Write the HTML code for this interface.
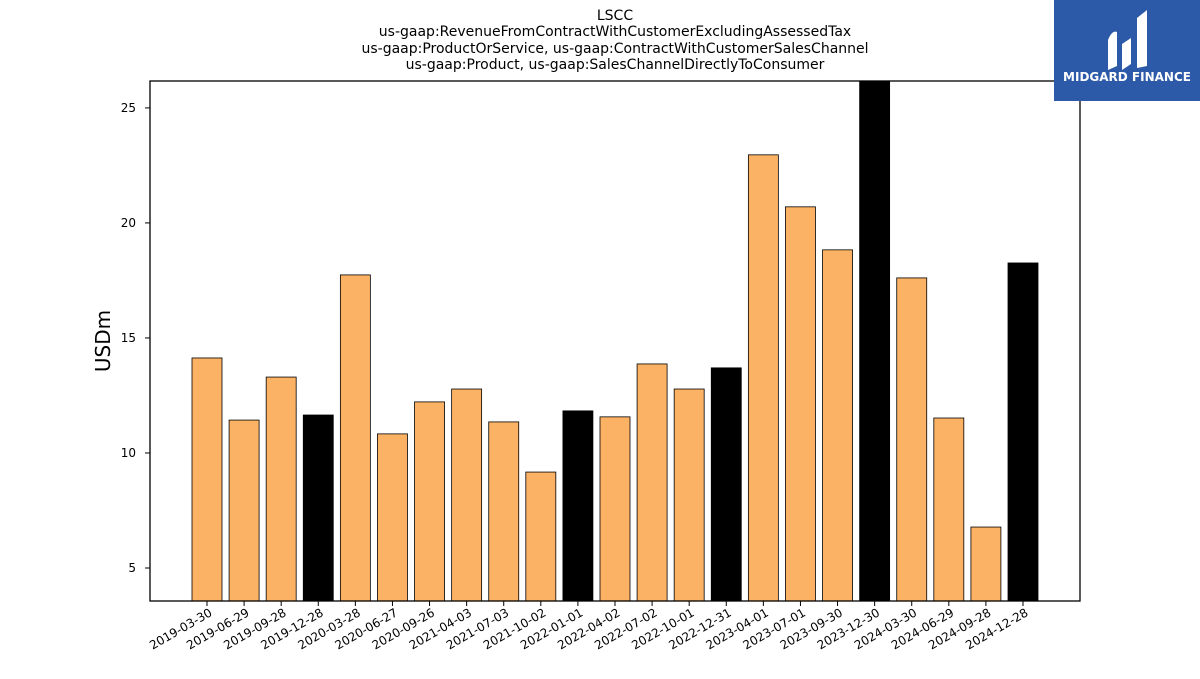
<!DOCTYPE html>
<html><head><meta charset="utf-8"><style>
body{margin:0;background:#fff;font-family:"DejaVu Sans","Liberation Sans",sans-serif}
</style></head><body>
<svg width="1200" height="675" xmlns="http://www.w3.org/2000/svg" id="svg" font-family="DejaVu Sans, Liberation Sans, sans-serif">
<rect width="1200" height="675" fill="#fff"/>
<g font-size="14" text-anchor="middle" fill="#000">
<text x="615" y="20">LSCC</text>
<text x="615" y="36">us-gaap:RevenueFromContractWithCustomerExcludingAssessedTax</text>
<text x="615" y="53">us-gaap:ProductOrService, us-gaap:ContractWithCustomerSalesChannel</text>
<text x="615" y="69">us-gaap:Product, us-gaap:SalesChannelDirectlyToConsumer</text>
</g>
<text transform="translate(110,341) rotate(-90)" font-size="20" text-anchor="middle">USDm</text>
<g id="plot"></g>
<rect x="150" y="81" width="930" height="520" fill="none" stroke="#000" stroke-width="1.3"/>
<g>
<rect x="1054" y="0" width="146" height="101" fill="#2c5aa8"/>
<path d="M1108 70 L1108 40 Q1112 30 1117 32 L1117 66 Z M1122 70 L1122 44 L1131 38 L1131 64 Z M1137 68 L1137 18 L1147 10 L1147 66 Z" fill="#fff"/>
<text x="1127" y="81" font-size="12" font-weight="bold" fill="#fff" text-anchor="middle">MIDGARD FINANCE</text>
</g>
</svg>
<script>
const categories=["2019-03-30","2019-06-29","2019-09-28","2019-12-28","2020-03-28","2020-06-27","2020-09-26","2021-04-03","2021-07-03","2021-10-02","2022-01-01","2022-04-02","2022-07-02","2022-10-01","2022-12-31","2023-04-01","2023-07-01","2023-09-30","2023-12-30","2024-03-30","2024-06-29","2024-09-28","2024-12-28"];
const values=[14.13,11.43,13.30,11.65,17.74,10.83,12.22,12.78,11.35,9.17,11.83,11.57,13.87,12.78,13.70,22.96,20.70,18.83,26.5,17.61,11.52,6.78,18.26];
const fiscalYearEnd=[false,false,false,true,false,false,false,false,false,false,true,false,false,false,true,false,false,false,true,false,false,false,true];
const yTicks=[5,10,15,20,25];
const yMin=3.565,yMax=26.17,yTop=81,yBot=601;
const ys=v=>yBot-(v-yMin)/(yMax-yMin)*(yBot-yTop);
const xs=i=>207+i*(1023-207)/(categories.length-1);
const NS="http://www.w3.org/2000/svg";
const g=document.getElementById('plot');
function mk(t,a){const e=document.createElementNS(NS,t);for(const k in a)e.setAttribute(k,a[k]);g.appendChild(e);return e;}
const clip=mk('clipPath',{id:'c'});const cr=document.createElementNS(NS,'rect');
cr.setAttribute('x',150);cr.setAttribute('y',81);cr.setAttribute('width',930);cr.setAttribute('height',520);clip.appendChild(cr);
values.forEach((v,i)=>{
 const r=mk('rect',{x:xs(i)-15,y:ys(v),width:30,height:yBot-ys(v),fill:fiscalYearEnd[i]?'#000':'#fcb264',stroke:'#000','stroke-width':0.8,'clip-path':'url(#c)'});
 
 
 const tk=mk('line',{x1:xs(i),x2:xs(i),y1:yBot,y2:yBot+5,stroke:'#000'});
 
 
 const t=mk('text',{transform:`translate(${xs(i)+6},${yBot+14}) rotate(-30)`,'font-size':12,'text-anchor':'end'});
 t.textContent=categories[i];
 
 
});
yTicks.forEach(v=>{
 const l=mk('line',{x1:145,x2:150,y1:ys(v),y2:ys(v),stroke:'#000'});
 
 
 const t=mk('text',{x:136,y:ys(v)+4,'font-size':12,'text-anchor':'end'});
 t.textContent=v;
 
 
});
</script>
</body></html>
